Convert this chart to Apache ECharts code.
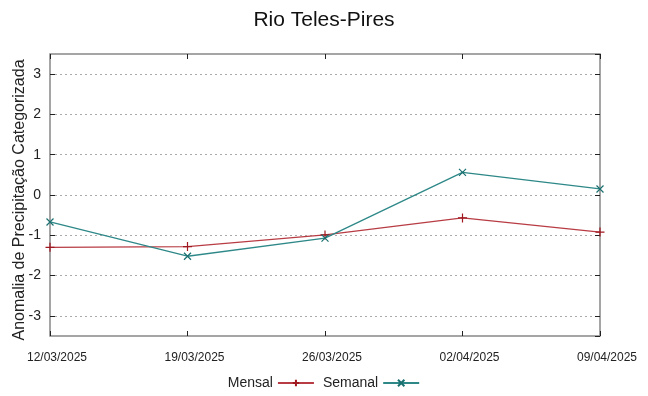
<!DOCTYPE html>
<html>
<head>
<meta charset="utf-8">
<script src="https://cdn.jsdelivr.net/npm/echarts@6/dist/echarts.min.js"></script>
<style>html,body{margin:0;padding:0;background:#fff}#c{width:648px;height:396px}</style>
</head>
<body>
<div id="c"></div>
<script>
const categories = ['12/03/2025', '19/03/2025', '26/03/2025', '02/04/2025', '09/04/2025'];
const mensal = [-1.30, -1.28, -0.99, -0.57, -0.92];
const semanal = [-0.67, -1.52, -1.07, 0.56, 0.15];
const titleText = 'Rio Teles-Pires';
const yName = 'Anomalia de Precipitação Categorizada';

const FONT = '"Liberation Sans", Arial, sans-serif';
const plusPath = 'path://M0,5L10,5M5,0L5,10';
const crossPath = 'path://M0,0L10,10M0,10L10,0';

const chart = echarts.init(document.getElementById('c'), null, {renderer: 'canvas'});
const yCommon = {
  type: 'value', min: -3.5, max: 3.5, splitNumber: 7,
  axisLine: {show: false, onZero: false},
  axisTick: {show: true, inside: true, length: 5, lineStyle: {color: '#222', width: 1}},
};
const xCommon = {
  type: 'category', data: categories, boundaryGap: false,
  axisLine: {show: false, onZero: false},
  axisTick: {show: true, inside: true, length: 5, alignWithLabel: true, lineStyle: {color: '#222', width: 1}},
};
chart.setOption({
  animation: false,
  backgroundColor: '#fff',
  title: {
    text: titleText, left: 'center', top: 5,
    textStyle: {fontFamily: FONT, fontSize: 21, fontWeight: 'normal', color: '#111'}
  },
  legend: {
    bottom: 1, left: 'center', align: 'right',
    itemWidth: 36, itemHeight: 8, itemGap: 8,
    textStyle: {fontFamily: FONT, fontSize: 14, color: '#222', padding: [0, 0, 0, 0]},
    data: ['Mensal', 'Semanal']
  },
  grid: {
    left: 50, right: 48, top: 54, bottom: 60,
    containLabel: false, outerBoundsMode: 'none',
    show: true, borderColor: '#888', borderWidth: 1.5, backgroundColor: 'transparent'
  },
  xAxis: [
    Object.assign({}, xCommon, {
      position: 'bottom',
      axisLabel: {fontFamily: FONT, fontSize: 12, color: '#222', margin: 16, padding: [0, 0, 0, 14]},
      splitLine: {show: false}
    }),
    Object.assign({}, xCommon, {
      position: 'top', axisLabel: {show: false}, splitLine: {show: false}
    })
  ],
  yAxis: [
    Object.assign({}, yCommon, {
      position: 'left',
      name: yName, nameLocation: 'middle', nameGap: 22, nameRotate: 90, nameMoveOverlap: false,
      nameTextStyle: {fontFamily: FONT, fontSize: 16, color: '#222', padding: [0, 10, 0, 0]},
      axisLabel: {fontFamily: FONT, fontSize: 14, color: '#222', margin: 9, showMinLabel: false, showMaxLabel: false},
      splitLine: {show: true, showMinLine: false, showMaxLine: false, lineStyle: {color: '#aaa', type: [2, 3], width: 1}}
    }),
    Object.assign({}, yCommon, {
      position: 'right', axisLabel: {show: false}, splitLine: {show: false}
    })
  ],
  series: [
    {
      name: 'Mensal', type: 'line', data: mensal, xAxisIndex: 0, yAxisIndex: 0,
      symbol: plusPath, symbolSize: 9, showAllSymbol: true,
      lineStyle: {color: '#b83c44', width: 1.3},
      itemStyle: {color: 'transparent', borderColor: '#a01820', borderWidth: 1.2}
    },
    {
      name: 'Semanal', type: 'line', data: semanal, xAxisIndex: 0, yAxisIndex: 0,
      symbol: crossPath, symbolSize: 7, showAllSymbol: true,
      lineStyle: {color: '#2e8888', width: 1.3},
      itemStyle: {color: 'transparent', borderColor: '#1a7070', borderWidth: 1.2}
    }
  ]
});
</script>
</body>
</html>
